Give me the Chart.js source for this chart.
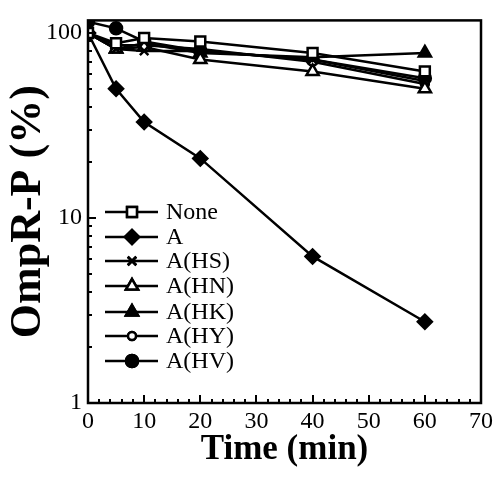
<!DOCTYPE html>
<html>
<head>
<meta charset="utf-8">
<script src="https://cdn.jsdelivr.net/npm/chart.js@4"></script>
<style>
  html, body { margin: 0; padding: 0; background: #fff; }
  #wrap { width: 504px; height: 479px; }
</style>
</head>
<body>
<div id="wrap"><canvas id="chart" width="504" height="479"></canvas></div>
<script>
// time points (min)
const times = [0, 5, 10, 20, 40, 60];

// OmpR-P remaining (%)
const noneVals = [100, 88, 94, 90, 78, 62];
const aVals = [100, 50, 33, 21, 6.2, 2.75];
const hsVals = [100, 82, 80, 80, 72, 55];
const hnVals = [100, 82, 84, 72, 62, 50];
const hkVals = [100, 82, 88, 78, 74, 78];
const hyVals = [100, 86, 86, 82, 70, 53];
const hvVals = [115, 106, 90, 80, 72, 57];

const seriesNames = ["None", "A", "A(HS)", "A(HN)", "A(HK)", "A(HY)", "A(HV)"];
const yTickLabels = [1, 10, 100];
const xTickLabels = [0, 10, 20, 30, 40, 50, 60, 70];

const serif = "'Liberation Serif', 'DejaVu Serif', serif";

function series(label, vals, style, filled, radius) {
  return {
    label: label,
    data: times.map((t, i) => ({ x: t, y: vals[i] })),
    borderColor: "#000",
    borderWidth: 2.5,
    pointStyle: style,
    pointRadius: radius,
    pointHoverRadius: radius,
    pointBorderWidth: 2.5,
    pointBorderColor: "#000",
    pointBackgroundColor: filled ? "#000" : "#fff",
    tension: 0,
  };
}

const datasets = [
  series(seriesNames[0], noneVals, "rect", false, 7),
  series(seriesNames[1], aVals, "rectRot", true, 7),
  series(seriesNames[2], hsVals, "crossRot", false, 6),
  series(seriesNames[3], hnVals, "triangle", false, 7),
  series(seriesNames[4], hkVals, "triangle", true, 7),
  series(seriesNames[5], hyVals, "circle", false, 4),
  series(seriesNames[6], hvVals, "circle", true, 6),
];

// box, inward ticks and the legend
const frame = {
  id: "frame",
  afterDraw(chart) {
    const ctx = chart.ctx;
    const a = chart.chartArea;
    const xs = chart.scales.x;
    const ys = chart.scales.y;
    ctx.save();
    ctx.strokeStyle = "#000";
    ctx.lineWidth = 2.5;
    ctx.strokeRect(a.left, a.top, a.right - a.left, a.bottom - a.top);

    ctx.lineWidth = 2;
    ctx.beginPath();
    for (let t = 0; t <= 70; t += 2) {
      const px = Math.round(xs.getPixelForValue(t));
      const len = t % 10 === 0 ? 8 : 4;
      ctx.moveTo(px, a.bottom);
      ctx.lineTo(px, a.bottom - len);
    }
    for (let d = 1; d <= 10; d *= 10) {
      for (let m = 1; m <= 9; m++) {
        const v = d * m;
        const py = Math.round(ys.getPixelForValue(v));
        const len = m === 1 ? 8 : 4;
        ctx.moveTo(a.left, py);
        ctx.lineTo(a.left + len, py);
      }
    }
    const py100 = Math.round(ys.getPixelForValue(100));
    ctx.moveTo(a.left, py100);
    ctx.lineTo(a.left + 8, py100);
    ctx.stroke();

    // legend
    const rows = [212, 237, 261, 286, 312, 336, 361];
    ctx.font = "24px " + serif;
    ctx.textBaseline = "middle";
    ctx.fillStyle = "#000";
    chart.data.datasets.forEach((ds, i) => {
      const y = rows[i];
      ctx.beginPath();
      ctx.lineWidth = 2.5;
      ctx.moveTo(105, y);
      ctx.lineTo(158, y);
      ctx.stroke();
      ctx.fillStyle = ds.pointBackgroundColor;
      Chart.helpers.drawPoint(ctx, { pointStyle: ds.pointStyle, radius: ds.pointRadius, borderWidth: 2.5 }, 132, y);
      ctx.fill();
      ctx.stroke();
      ctx.fillStyle = "#000";
      ctx.fillText(ds.label, 166, y + 1);
    });
    ctx.restore();
  },
};

new Chart(document.getElementById("chart"), {
  type: "line",
  data: { datasets: datasets },
  options: {
    responsive: false,
    animation: false,
    layout: { padding: { top: 13, right: 23, left: 0, bottom: 0 } },
    plugins: { legend: { display: false }, tooltip: { enabled: false } },
    scales: {
      x: {
        type: "linear",
        min: 0,
        max: 70,
        afterBuildTicks: (s) => { s.ticks = xTickLabels.map((v) => ({ value: v })); },
        afterFit: (s) => { s.height = 76; },
        grid: { display: false, drawTicks: false },
        border: { display: false },
        ticks: { color: "#000", font: { family: serif, size: 24 }, padding: 4, maxRotation: 0 },
        title: { display: true, text: "Time (min)", color: "#000", font: { family: serif, size: 35, weight: "bold" }, padding: { top: 0, bottom: 8 } },
      },
      y: {
        type: "logarithmic",
        min: 1,
        max: 117,
        afterBuildTicks: (s) => { s.ticks = yTickLabels.map((v) => ({ value: v })); },
        afterFit: (s) => { s.width = 88; },
        grid: { display: false, drawTicks: false },
        border: { display: false },
        ticks: { color: "#000", font: { family: serif, size: 24 }, padding: 6, callback: (v) => String(v) },
        title: { display: true, text: "OmpR-P (%)", color: "#000", font: { family: serif, size: 44, weight: "bold" }, padding: { top: 2, bottom: 0 } },
      },
    },
  },
  plugins: [frame],
});
</script>
</body>
</html>
